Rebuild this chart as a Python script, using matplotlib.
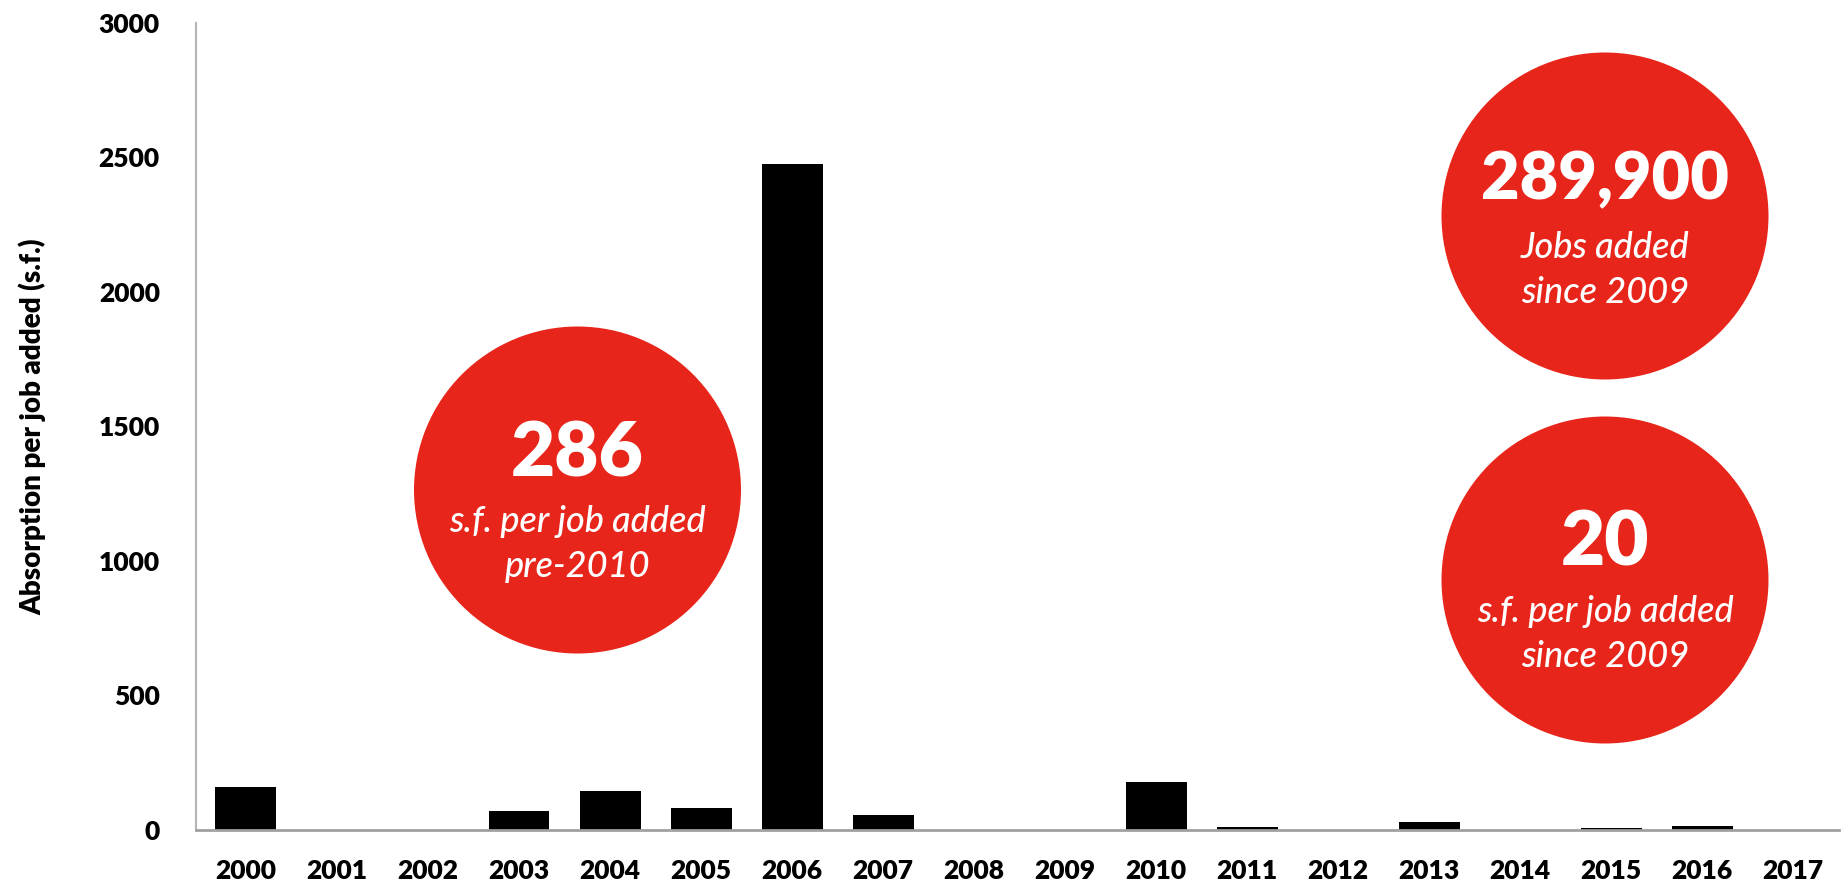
import matplotlib.pyplot as plt
from matplotlib.patches import Circle

years = [str(y) for y in range(2000, 2018)]
absorption = [160, 0, 0, 72, 146, 82, 2475, 55, 0, 0, 180, 10, 0, 28, 0, 6, 14, 0]

# callouts: big number, first line, second line
callout_numbers = ["286", "289,900", "20"]
callout_line1 = ["s.f. per job added", "Jobs added", "s.f. per job added"]
callout_line2 = ["pre-2010", "since 2009", "since 2009"]

rojo = "#e8251a"
fuente = "Lato"

fig = plt.figure(figsize=(18.48, 8.88), dpi=100)
ax = fig.add_axes([0.106, 0.0653, 0.889, 0.909])

ax.bar(years, absorption, width=0.67, color="black", zorder=2)

ax.set_ylim(0, 3000)
ax.set_xlim(-0.55, len(years) - 0.5)
ax.set_yticks(range(0, 3001, 500))

for lado in ["top", "right"]:
    ax.spines[lado].set_visible(False)
ax.spines["left"].set_color("#b4b4b4")
ax.spines["bottom"].set_color("#a0a0a0")
ax.spines["left"].set_linewidth(1.5)
ax.spines["bottom"].set_linewidth(2)
ax.tick_params(axis="both", length=0)
ax.tick_params(axis="y", pad=26)
ax.tick_params(axis="x", pad=21)

for lbl in ax.get_xticklabels() + ax.get_yticklabels():
    lbl.set_fontfamily(fuente)
    lbl.set_fontweight("heavy")
    lbl.set_fontsize(19)

ax.set_ylabel("Absorption per job added (s.f.)", fontfamily=fuente,
              fontweight="heavy", fontsize=20)
ax.yaxis.set_label_coords(-0.091, 0.5)

# red circles placed in inches on the figure
centros = [(5.775, 3.98), (16.05, 6.72), (16.05, 3.08)]
tam_numero = [55, 48, 55]
radio = 1.635
for (cx, cy), num, l1, l2, tam in zip(centros, callout_numbers, callout_line1,
                                      callout_line2, tam_numero):
    fig.patches.append(Circle((cx, cy), radio, transform=fig.dpi_scale_trans,
                              facecolor=rojo, edgecolor="none", zorder=5))
    fig.text(cx / 18.48, (cy + 0.36) / 8.88, num, ha="center", va="center",
             color="white", fontfamily=fuente, fontweight="heavy", fontsize=tam, zorder=6)
    fig.text(cx / 18.48, (cy - 0.31) / 8.88, l1, ha="center", va="center",
             color="white", fontfamily=fuente, style="italic", fontweight="medium",
             fontsize=26, zorder=6)
    fig.text(cx / 18.48, (cy - 0.76) / 8.88, l2, ha="center", va="center",
             color="white", fontfamily=fuente, style="italic", fontweight="medium",
             fontsize=26, zorder=6)

fig.savefig("out.png", dpi=100)
